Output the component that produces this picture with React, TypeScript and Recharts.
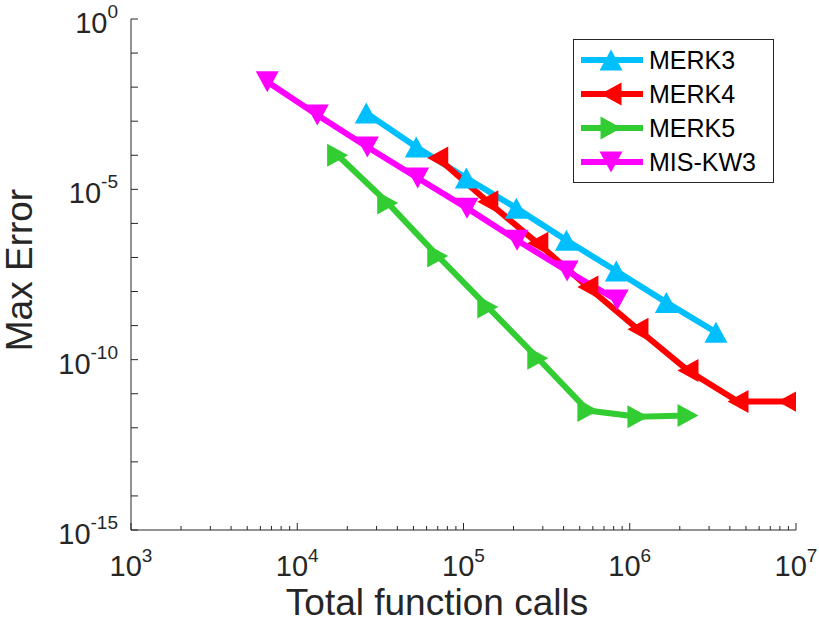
import React from 'react';
import { LineChart, Line, XAxis, YAxis, Label } from 'recharts';

// values (log-log convergence plot)
const merk3Calls = [2.6e4, 5.2e4, 1.04e5, 2.08e5, 4.16e5, 8.3e5, 1.66e6, 3.3e6];
const merk3Err = [1.75e-3, 1.75e-4, 2.15e-5, 2.8e-6, 3.2e-7, 4e-8, 4.8e-9, 6.4e-10];

const merk4Calls = [7e4, 1.4e5, 2.8e5, 5.6e5, 1.12e6, 2.24e6, 4.48e6, 8.96e6];
const merk4Err = [8.3e-5, 4.3e-6, 2.6e-7, 1.35e-8, 7.8e-10, 4.8e-11, 5.9e-12, 5.9e-12];

const merk5Calls = [1.75e4, 3.5e4, 7e4, 1.4e5, 2.8e5, 5.6e5, 1.12e6, 2.24e6];
const merk5Err = [1.0e-4, 4e-6, 1.1e-7, 3.5e-9, 1.1e-10, 3.2e-12, 2.1e-12, 2.3e-12];

const misCalls = [6.6e3, 1.32e4, 2.64e4, 5.3e4, 1.05e5, 2.1e5, 4.2e5, 8.4e5];
const misErr = [1.43e-2, 1.53e-3, 1.75e-4, 2.15e-5, 2.8e-6, 3.2e-7, 4e-8, 5.6e-9];

const xTicks = [3, 4, 5, 6].flatMap(e => [1, 2, 3, 4, 5, 6, 7, 8, 9].map(m => m * 10 ** e)).concat([1e7]);
const yTicks = Array.from({ length: 16 }, (_, i) => 10 ** -i);

const FONT = '"Liberation Sans", Arial, Helvetica, sans-serif';
const AXIS = '#262626';

type Shape = 'up' | 'left' | 'right' | 'down';

const series = [
  { name: 'MERK3', color: '#00bfff', shape: 'up' as Shape, calls: merk3Calls, err: merk3Err },
  { name: 'MERK4', color: '#ff0000', shape: 'left' as Shape, calls: merk4Calls, err: merk4Err },
  { name: 'MERK5', color: '#32cd32', shape: 'right' as Shape, calls: merk5Calls, err: merk5Err },
  { name: 'MIS-KW3', color: '#ff00ff', shape: 'down' as Shape, calls: misCalls, err: misErr },
];

const triPath = (shape: Shape, cx: number, cy: number) => {
  const b = 23; // base
  const h = 21; // height
  switch (shape) {
    case 'up':
      return `M${cx},${cy - h / 2}L${cx + b / 2},${cy + h / 2}L${cx - b / 2},${cy + h / 2}Z`;
    case 'down':
      return `M${cx},${cy + h / 2}L${cx + b / 2},${cy - h / 2}L${cx - b / 2},${cy - h / 2}Z`;
    case 'left':
      return `M${cx - h / 2},${cy}L${cx + h / 2},${cy - b / 2}L${cx + h / 2},${cy + b / 2}Z`;
    default:
      return `M${cx + h / 2},${cy}L${cx - h / 2},${cy - b / 2}L${cx - h / 2},${cy + b / 2}Z`;
  }
};

const makeDot = (shape: Shape, color: string) => (props: any) => {
  const { cx, cy, index } = props;
  if (cx == null || cy == null) return <g key={`d-${index}`} />;
  return <path key={`d-${index}`} d={triPath(shape, cx, cy)} fill={color} stroke="none" />;
};

const XTick = (props: any) => {
  const { x, y, payload } = props;
  const v = payload.value;
  const e = Math.round(Math.log10(v));
  const major = Math.abs(v - 10 ** e) < 1e-6 * v;
  return (
    <g>
      <line x1={x} x2={x} y1={y} y2={y - (major ? 7 : 4)} stroke={AXIS} strokeWidth={1} />
      {major && (
        <text x={x} y={y + 46} textAnchor="middle" fill={AXIS} fontFamily={FONT}>
          <tspan fontSize={29}>10</tspan>
          <tspan fontSize={19} dy={-14}>{e}</tspan>
        </text>
      )}
    </g>
  );
};

const YTick = (props: any) => {
  const { x, y, payload } = props;
  const e = Math.round(Math.log10(payload.value));
  const major = e % 5 === 0;
  return (
    <g>
      <line x1={x} x2={x + 7} y1={y} y2={y} stroke={AXIS} strokeWidth={1} />
      {major && (
        <text x={x - 13} y={y + 14} textAnchor="end" fill={AXIS} fontFamily={FONT}>
          <tspan fontSize={29}>10</tspan>
          <tspan fontSize={19} dy={-15}>{e === 0 ? '0' : `${e}`}</tspan>
        </text>
      )}
    </g>
  );
};

const LegendBox = () => (
  <div
    style={{
      position: 'absolute',
      left: 573,
      top: 39,
      width: 199,
      height: 142,
      border: '1px solid #262626',
      background: '#fff',
      fontFamily: FONT,
    }}
  >
    {series.map((s, i) => (
      <div key={s.name} style={{ position: 'absolute', left: 0, top: 6 + i * 34, height: 28, display: 'flex', alignItems: 'center' }}>
        <svg width={72} height={28} style={{ display: 'block' }}>
          <line x1={7} x2={69} y1={14} y2={14} stroke={s.color} strokeWidth={6} />
          <path d={triPath(s.shape, 37, 14)} fill={s.color} />
        </svg>
        <span style={{ fontSize: 25, color: '#000', marginLeft: 3, lineHeight: '28px' }}>{s.name}</span>
      </div>
    ))}
  </div>
);

export default function App() {
  return (
    <div style={{ position: 'absolute', left: 0, top: 0, width: 819, height: 625, background: '#fff' }}>
      <LineChart width={819} height={625} margin={{ top: 19, right: 23, bottom: 0, left: 0 }}>
        <XAxis
          type="number"
          dataKey="x"
          scale="log"
          domain={[1e3, 1e7]}
          allowDataOverflow
          ticks={xTicks}
          interval={0}
          tick={<XTick />}
          tickLine={false}
          tickSize={0}
          tickMargin={0}
          height={95}
          axisLine={{ stroke: AXIS, strokeWidth: 1 }}
        >
          <Label
            content={() => (
              <text x={437} y={615} textAnchor="middle" fontSize={37} fill={AXIS} fontFamily={FONT}>
                Total function calls
              </text>
            )}
          />
        </XAxis>
        <YAxis
          type="number"
          dataKey="y"
          scale="log"
          domain={[1e-15, 1]}
          allowDataOverflow
          ticks={yTicks}
          interval={0}
          tick={<YTick />}
          tickLine={false}
          tickSize={0}
          tickMargin={0}
          width={131}
          axisLine={{ stroke: AXIS, strokeWidth: 1 }}
        >
          <Label
            content={() => (
              <text
                x={32}
                y={270}
                transform="rotate(-90 32 270)"
                textAnchor="middle"
                fontSize={37}
                fill={AXIS}
                fontFamily={FONT}
              >
                Max Error
              </text>
            )}
          />
        </YAxis>
        {series.map(s => (
          <Line
            key={s.name}
            name={s.name}
            data={s.calls.map((c, i) => ({ x: c, y: s.err[i] }))}
            dataKey="y"
            type="linear"
            stroke={s.color}
            strokeWidth={6}
            dot={makeDot(s.shape, s.color)}
            activeDot={false}
            isAnimationActive={false}
          />
        ))}
      </LineChart>
      <LegendBox />
    </div>
  );
}
